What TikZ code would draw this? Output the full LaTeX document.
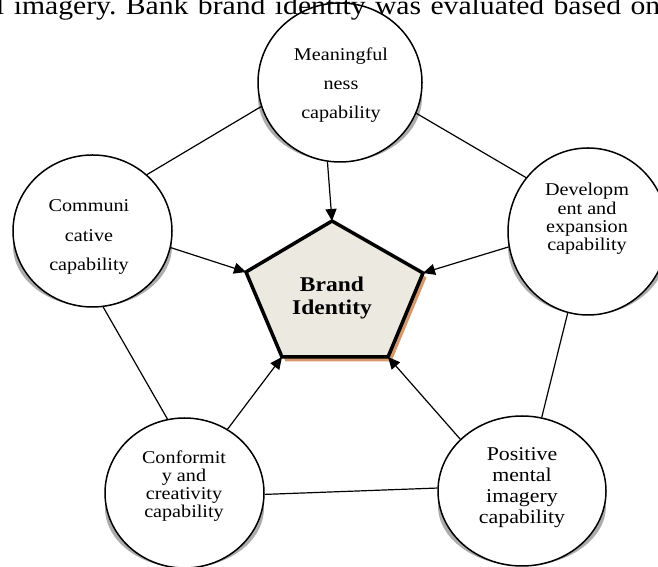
\documentclass[tikz,border=0pt]{standalone}
\usepackage{fontspec}
\setmainfont[FakeStretch=1.12]{Liberation Serif}
\usetikzlibrary{shapes.geometric,arrows.meta,backgrounds,shadows}
\definecolor{pentfill}{RGB}{236,234,224}
\definecolor{pentshadow}{RGB}{212,152,108}
\definecolor{ringshadow}{RGB}{172,172,172}

\begin{document}
\begin{tikzpicture}[
            x=1pt, y=1pt,
            capring/.style={ellipse, draw, line width=1.5pt, fill=white, inner sep=0pt},
            captext/.style={align=center, inner sep=0pt, font=\fontsize{18}{#1}\selectfont},
            link/.style={line width=1.2pt},
            push/.style={line width=1.2pt, -{Triangle[length=12pt,width=11pt]}}
                           ]
            \useasboundingbox (0,0) rectangle (658,567);
            \clip (0,0) rectangle (658,567);

            % 1. The five capability circles
            \node[capring, minimum width=164pt, minimum height=159pt] (meaning_circle) at (340,484.5) {};
            \node[capring, minimum width=159pt, minimum height=152pt] (comm_circle)    at (92.5,336) {};
            \node[capring, minimum width=160pt, minimum height=167pt] (dev_circle)     at (588,335.5) {};
            \node[capring, minimum width=159pt, minimum height=150pt] (conf_circle)    at (184.5,74) {};
            \node[capring, minimum width=168pt, minimum height=150pt] (pos_circle)     at (522,76) {};

            \node[captext=29]   (meaning_text) at (341,482) {Meaningful\\ness\\capability};
            \node[captext=29.5] (comm_text)    at (89,330)  {Communi\\cative\\capability};
            \node[captext=18.3] (dev_text)     at (587,348) {Developm\\ent and\\expansion\\capability};
            \node[captext=18]   (conf_text)    at (184,81)  {Conformit\\y and\\creativity\\capability};
            \node[align=center, inner sep=0pt, font=\fontsize{19.5}{21}\selectfont]
                                (pos_text)     at (522,79)  {Positive\\mental\\imagery\\capability};

            % 2. Grey shadows under the circles
            \begin{scope}[on background layer]
                \foreach \n/\rx/\ry [evaluate=\ry as \sy using \ry-15] in {meaning/82/79.5, comm/79.5/76, dev/80/83.5, conf/79.5/75, pos/84/75}
                    \fill[ringshadow] ([yshift=-15pt]\n_circle.center) ellipse [x radius=\rx, y radius=\sy];
            \end{scope}

            % 3. The brand identity pentagon
            \coordinate (top_corner)    at (332,346);
            \coordinate (right_corner)  at (423,294);
            \coordinate (sright_corner) at (388,210);
            \coordinate (sleft_corner)  at (282,210);
            \coordinate (left_corner)   at (246,295);
            \filldraw[fill=pentfill, line width=3.5pt, line join=miter,
                      general shadow={fill=pentshadow, shadow xshift=3.5pt, shadow yshift=-4.5pt}]
                (top_corner) -- (right_corner) -- (sright_corner) -- (sleft_corner) -- (left_corner) -- cycle;
            \node[align=center, font=\bfseries\fontsize{21}{23}\selectfont] (brand) at (332,269) {Brand\\Identity};

            % 4. Lines round the ring
            \draw[link] (meaning_circle.197) -- (comm_circle.46);
            \draw[link] (meaning_circle.338) -- (dev_circle.139);
            \draw[link] (comm_circle.278) -- (conf_circle.103);
            \draw[link] (dev_circle.256) -- (pos_circle.75);
            \draw[link] (conf_circle.359) -- (pos_circle.178);

            % 5. Arrows into the pentagon
            \draw[push] (meaning_circle.261) -- (top_corner);
            \draw[push] (comm_circle.348) -- (left_corner);
            \draw[push] (dev_circle.191) -- (right_corner);
            \draw[push] (conf_circle.56) -- (sleft_corner);
            \draw[push] (pos_circle.140) -- (sright_corner);

            % 6. Text line running over the top
            \node[anchor=base west, inner sep=0pt, font=\frenchspacing\fontsize{26.5}{31}\selectfont] (para) at (-4,552)
                {\makebox[664pt][s]{l imagery. Bank brand identity was evaluated based on}};

        \end{tikzpicture}
\end{document}
